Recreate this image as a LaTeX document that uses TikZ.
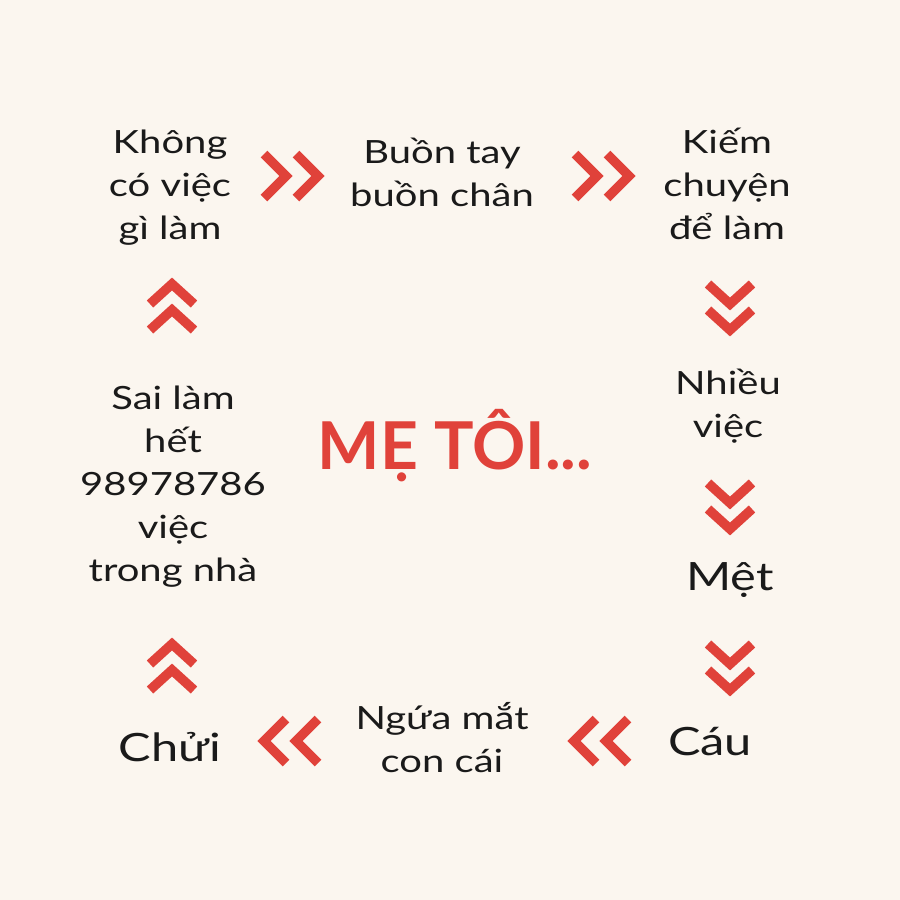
\documentclass[tikz,border=0pt]{standalone}
\usepackage{fontspec}
\setmainfont{Lato}
\newfontfamily\lblfont[FakeStretch=1.25]{Lato}
\definecolor{bgc}{HTML}{FBF6EF}
\definecolor{redc}{HTML}{E0423A}
\definecolor{txt}{HTML}{1A1A1A}
\begin{document}
\begin{tikzpicture}[x=1pt,y=-1pt,
  lbl/.style={align=center,text=txt,font=\lblfont\fontsize{32}{43}\selectfont,inner sep=0pt},
  big/.style={align=center,text=txt,font=\lblfont\fontsize{39}{48}\selectfont,inner sep=0pt},
  chev/.style={draw=redc,line width=9.5pt,miter limit=10,line join=miter,line cap=butt},
  pics/chevR/.style={code={
    \draw[chev] (-25,-22) -- (-3,0) -- (-25,22);
    \draw[chev] (7,-22) -- (29,0) -- (7,22);}},
  pics/chevL/.style={code={
    \draw[chev] (25,-22) -- (3,0) -- (25,22);
    \draw[chev] (-7,-22) -- (-29,0) -- (-7,22);}},
  pics/chevD/.style={code={
    \draw[chev] (-22,-23) -- (0,-3) -- (22,-23);
    \draw[chev] (-22,3) -- (0,23) -- (22,3);}},
  pics/chevU/.style={code={
    \draw[chev] (-22,23) -- (0,3) -- (22,23);
    \draw[chev] (-22,-3) -- (0,-23) -- (22,-3);}}
]
\fill[bgc] (0,0) rectangle (900,900);
\useasboundingbox (0,0) rectangle (900,900);

\node[lbl] (n1) at (170,188) {Không\\có việc\\gì làm};
\node[lbl] (n2) at (442,172) {Buồn tay\\buồn chân};
\node[lbl] (n3) at (727,184) {Kiếm\\chuyện\\để làm};
\node[lbl] (n4) at (728,406) {Nhiều\\việc};
\node[big] (n5) at (730,580) {Mệt};
\node[big] (n6) at (710,742) {Cáu};
\node[lbl] (n7) at (442,738) {Ngứa mắt\\con cái};
\node[big] (n8) at (170,747) {Chửi};
\node[lbl] (n9) at (173,487) {Sai làm\\hết\\98978786\\việc\\trong nhà};
\node[text=redc,font=\bfseries\fontsize{66}{70}\selectfont,inner sep=0pt] (title) at (455,446) {MẸ TÔI...};

\pic at (289,176) {chevR};
\pic at (600,176) {chevR};
\pic at (730,307) {chevD};
\pic at (730,506) {chevD};
\pic at (730,667) {chevD};
\pic at (603,741) {chevL};
\pic at (293,741) {chevL};
\pic at (172,667) {chevU};
\pic at (172,307) {chevU};
\end{tikzpicture}
\end{document}
